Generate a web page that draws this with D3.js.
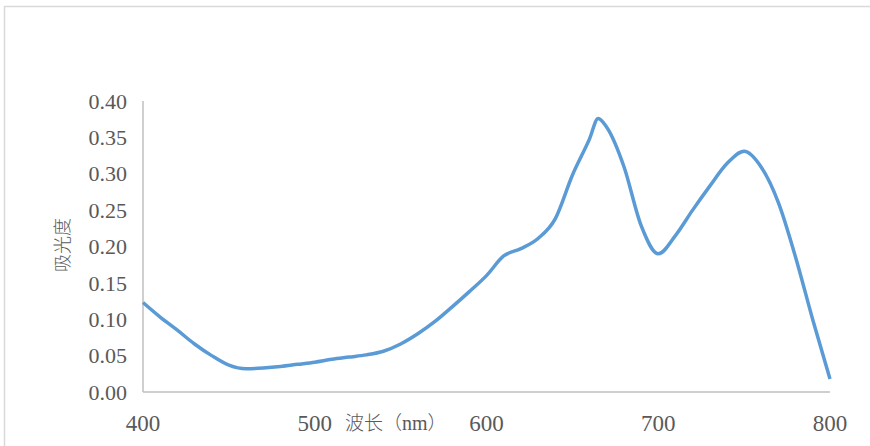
<!DOCTYPE html>
<html>
<head>
<meta charset="utf-8">
<title>吸光度</title>
<style>
body { margin: 0; background: #fff; }
</style>
</head>
<body>
<div id="graphic"></div>
<script src="https://cdn.jsdelivr.net/npm/d3@7"></script>
<script>
var wavelength = [400,410,420,430,440,450,460,470,480,490,500,510,520,530,540,550,560,570,580,590,
                  600,610,620,630,640,650,660,665,670,680,690,700,710,720,730,740,750,760,770,780,790,800];
var absorbance = [0.123,0.103,0.085,0.066,0.050,0.037,0.032,0.033,0.035,0.038,0.041,0.045,0.048,0.051,0.056,0.066,0.080,0.097,0.117,0.138,
                  0.160,0.187,0.197,0.211,0.238,0.298,0.348,0.376,0.364,0.310,0.229,0.190,0.215,0.250,0.283,0.314,0.331,0.309,0.260,0.185,0.099,0.018];
var xTicks = [400,500,600,700,800];
var yTicks = [0,0.05,0.10,0.15,0.20,0.25,0.30,0.35,0.40];

var serif = "'Liberation Serif', 'DejaVu Serif', serif";
var cjk = "'Noto Sans CJK SC', sans-serif";

var w = 870, h = 446;
var svg = d3.select("#graphic").append("svg")
    .attr("width", w).attr("height", h);

// chart border (extends past right/bottom edges)
svg.append("rect")
    .attr("x", 4.5).attr("y", 6.5)
    .attr("width", 900).attr("height", 500)
    .attr("fill", "none").attr("stroke", "#d9d9d9").attr("stroke-width", 1.5);

var x = d3.scaleLinear().domain([400, 800]).range([143, 830]);
var y = d3.scaleLinear().domain([0, 0.40]).range([392, 101]);

// axes lines
svg.append("line").attr("x1", 143).attr("x2", 143).attr("y1", y(0.40)).attr("y2", y(0))
    .attr("stroke", "#bfbfbf").attr("stroke-width", 1.5);
svg.append("line").attr("x1", 143).attr("x2", 830).attr("y1", y(0)).attr("y2", y(0))
    .attr("stroke", "#bfbfbf").attr("stroke-width", 1.5);

svg.append("g").selectAll("text").data(yTicks).enter().append("text")
    .attr("x", 127).attr("y", function(d) { return y(d); })
    .attr("dy", "0.35em").attr("text-anchor", "end")
    .attr("font-family", serif).attr("font-size", 22).attr("fill", "#595959")
    .text(function(d) { return d.toFixed(2); });

svg.append("g").selectAll("text").data(xTicks).enter().append("text")
    .attr("x", function(d) { return x(d); }).attr("y", 431)
    .attr("text-anchor", "middle")
    .attr("font-family", serif).attr("font-size", 23).attr("fill", "#595959")
    .text(function(d) { return d; });

// axis titles
var xt = svg.append("text").attr("x", 345).attr("y", 430)
    .attr("font-size", 19).attr("fill", "#595959");
xt.append("tspan").attr("font-family", cjk).attr("font-weight", 300).text("波长（");
xt.append("tspan").attr("font-family", serif).attr("font-size", 20).text("nm");
xt.append("tspan").attr("font-family", cjk).attr("font-weight", 300).text("）");

svg.append("text")
    .attr("transform", "translate(69,245) rotate(-90)")
    .attr("text-anchor", "middle")
    .attr("font-family", cjk).attr("font-weight", 300)
    .attr("font-size", 18).attr("fill", "#595959")
    .text("吸光度");

var line = d3.line()
    .x(function(d, i) { return x(wavelength[i]); })
    .y(function(d) { return y(d); })
    .curve(d3.curveMonotoneX);

svg.append("path").datum(absorbance)
    .attr("d", line)
    .attr("fill", "none")
    .attr("stroke", "#5b9bd5")
    .attr("stroke-width", 3.5)
    .attr("stroke-linejoin", "round");
</script>
</body>
</html>
